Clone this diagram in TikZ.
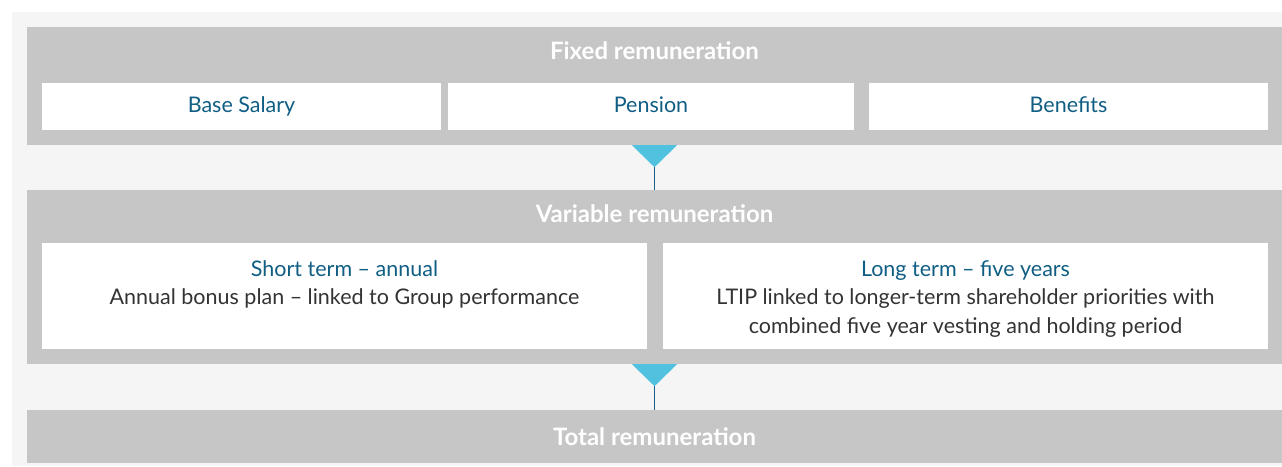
\documentclass[tikz,border=0pt]{standalone}
\usepackage{fontspec}
\setmainfont{Lato}
\usetikzlibrary{positioning}
\definecolor{pageBg}{HTML}{F5F5F5}
\definecolor{panelGray}{HTML}{C6C6C6}
\definecolor{titleBlue}{HTML}{105E84}
\definecolor{bodyGray}{HTML}{333333}
\definecolor{markCyan}{HTML}{50C2E0}
\definecolor{lineBlue}{HTML}{1B5E8A}
\tikzset{
    x=1pt, y=-1pt,
    % Panels & boxes
    panel/.style={rectangle, fill=panelGray, inner sep=0pt},
    box/.style={rectangle, fill=white, inner sep=0pt, text=titleBlue,
                text height=15.2pt, text depth=2.8pt,
                font=\fontsize{21.5}{24}\selectfont},
    % Texts
    head/.style={text=white, inner sep=0pt, anchor=base,
                 font=\bfseries\fontsize{24}{26}\selectfont},
    boxtext/.style={inner sep=0pt, align=center, text=bodyGray, anchor=north,
                    yshift=-17.5pt, font=\fontsize{21.5}{28.5}\selectfont},
    % Connectors
    flow/.style={draw=lineBlue, line width=1.2pt},
    flowMark/.style={fill=markCyan}
}
\begin{document}
\begin{tikzpicture}

\useasboundingbox (0,0) rectangle (1282,466);
\fill[pageBg] (12,12) rectangle (1282,466);

% Fixed
\node[panel, minimum width=1255, minimum height=118] (fixed) at (654.5,86) {};
\node[head] (fixedHead) at (654.5,59.5) {Fixed remuneration};
\node[box, minimum width=399, minimum height=47] (salary) at (241.5,106.5) {Base Salary};
\node[box, minimum width=406, minimum height=47] (pension) at (651,106.5) {Pension};
\node[box, minimum width=399, minimum height=47] (benefits) at (1068.5,106.5) {Benefits};

% Variable
\node[panel, minimum width=1255, minimum height=174] (variable) at (654.5,277) {};
\node[head] (variableHead) at (654.5,222.5) {Variable remuneration};
\node[box, minimum width=605, minimum height=106] (shortBox) at (344.5,296) {};
\node[box, minimum width=605, minimum height=106] (longBox) at (965.5,296) {};
\node[boxtext] (shortText) at (shortBox.north)
    {\textcolor{titleBlue}{Short term – annual}\\
     Annual bonus plan – linked to Group performance};
\node[boxtext] (longText) at (longBox.north)
    {\textcolor{titleBlue}{Long term – five years}\\
     LTIP linked to longer-term shareholder priorities with\\
     combined five year vesting and holding period};

% Total
\node[panel, minimum width=1255, minimum height=53] (total) at (654.5,436.5) {};
\node[head] (totalHead) at (654.5,445.5) {Total remuneration};

% Connectors
\draw[flow] (fixed.south) -- (variable.north);
\fill[flowMark] (fixed.south) ++(-22.5,0) -- ++(45,0) -- ++(-22.5,22) -- cycle;
\draw[flow] (variable.south) -- (total.north);
\fill[flowMark] (variable.south) ++(-22.5,0) -- ++(45,0) -- ++(-22.5,22) -- cycle;

\end{tikzpicture}
\end{document}
